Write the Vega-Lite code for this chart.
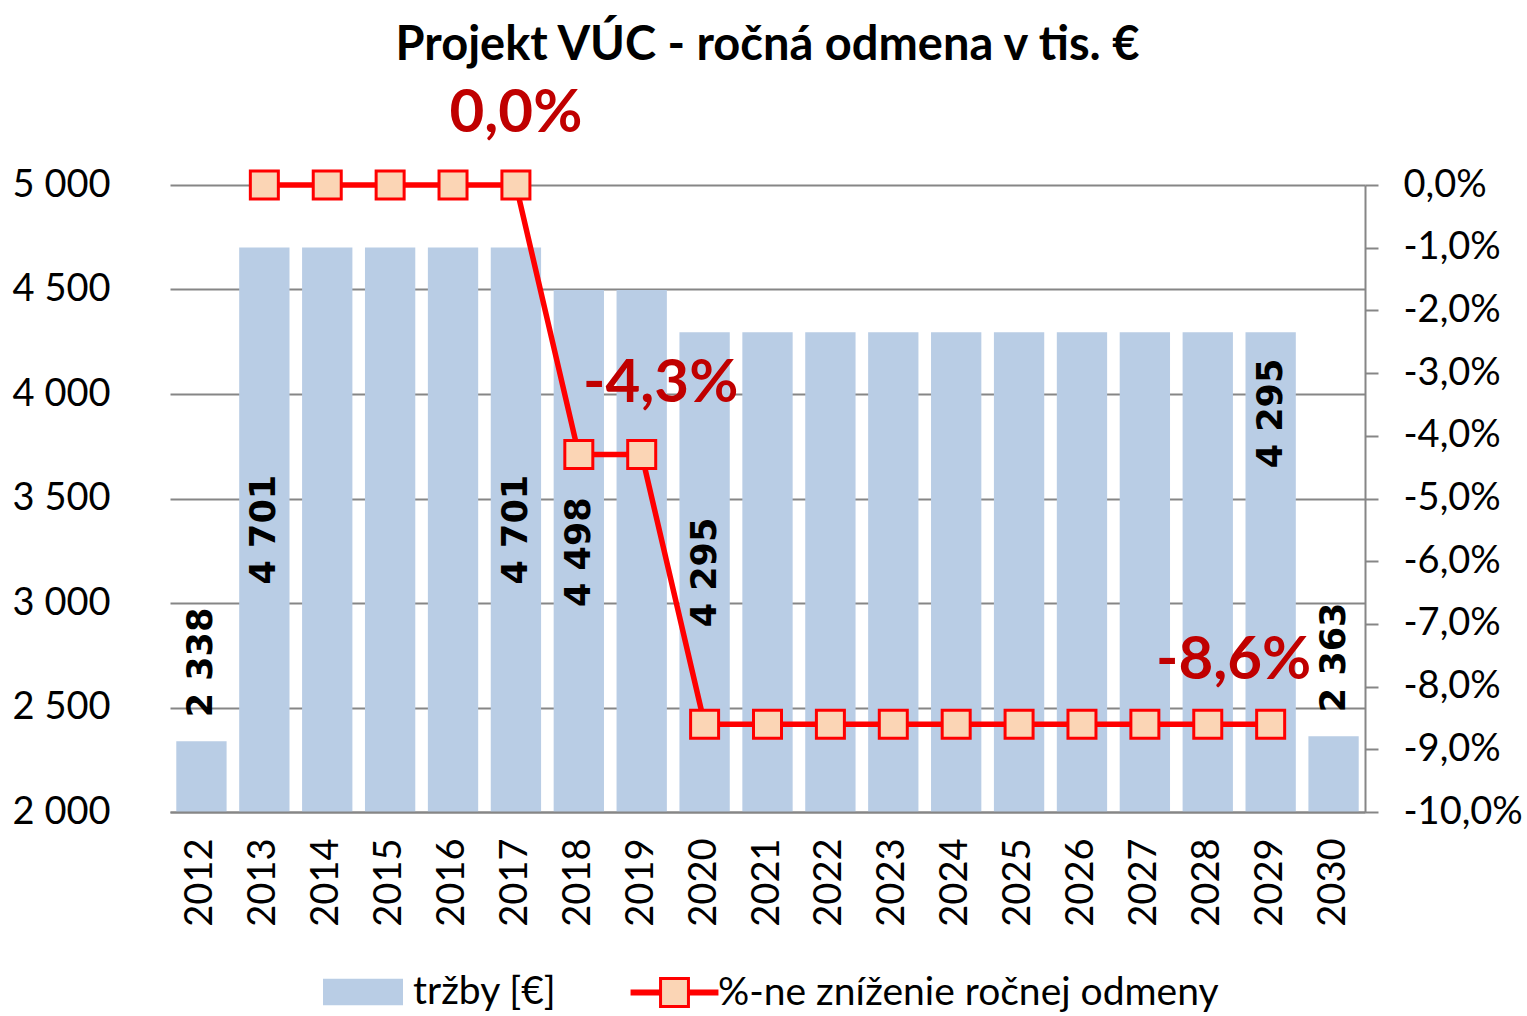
{
  "$schema": "https://vega.github.io/schema/vega-lite/v6.json",
  "width": 1195,
  "height": 627,
  "autosize": {"type": "none"},
  "padding": {"left": 170, "top": 185, "right": 162, "bottom": 204},
  "background": "white",
  "config": {
    "locale": {"number": {"decimal": ",", "thousands": " ", "grouping": [3], "currency": ["", " €"], "minus": "-", "percent": "%"}},
    "view": {"stroke": null},
    "axis": {"labelFont": "Lato", "labelFontSize": 38, "labelColor": "#000000"},
    "legend": {"labelFont": "Lato", "labelFontSize": 39, "labelColor": "#000000", "padding": 0, "labelLimit": 0}
  },
  "title": {"text": "Projekt VÚC - ročná odmena v tis. €", "font": "Lato", "fontWeight": "bold", "fontSize": 47, "color": "#000000", "anchor": "middle", "offset": 14},
  "data": {"values": [
    {"year": "2012", "trzby": 2338, "pct": null},
    {"year": "2013", "trzby": 4701, "pct": 0},
    {"year": "2014", "trzby": 4701, "pct": 0},
    {"year": "2015", "trzby": 4701, "pct": 0},
    {"year": "2016", "trzby": 4701, "pct": 0},
    {"year": "2017", "trzby": 4701, "pct": 0},
    {"year": "2018", "trzby": 4498, "pct": -0.043},
    {"year": "2019", "trzby": 4498, "pct": -0.043},
    {"year": "2020", "trzby": 4295, "pct": -0.086},
    {"year": "2021", "trzby": 4295, "pct": -0.086},
    {"year": "2022", "trzby": 4295, "pct": -0.086},
    {"year": "2023", "trzby": 4295, "pct": -0.086},
    {"year": "2024", "trzby": 4295, "pct": -0.086},
    {"year": "2025", "trzby": 4295, "pct": -0.086},
    {"year": "2026", "trzby": 4295, "pct": -0.086},
    {"year": "2027", "trzby": 4295, "pct": -0.086},
    {"year": "2028", "trzby": 4295, "pct": -0.086},
    {"year": "2029", "trzby": 4295, "pct": -0.086},
    {"year": "2030", "trzby": 2363, "pct": null}
  ]},
  "layer": [
    {
      "layer": [
        {
          "mark": {"type": "bar"},
          "encoding": {
            "x": {"field": "year", "type": "ordinal", "scale": {"paddingInner": 0.2, "paddingOuter": 0.1},
                  "axis": {"title": null, "labelAngle": -90, "ticks": false, "domainColor": "#868686", "domainWidth": 2, "labelPadding": 26, "grid": false, "zindex": 1}},
            "y": {"field": "trzby", "type": "quantitative", "scale": {"domain": [2000, 5000], "nice": false, "zero": false},
                  "axis": {"title": null, "values": [2000, 2500, 3000, 3500, 4000, 4500, 5000], "format": ",d", "domain": false, "ticks": false, "labelPadding": 60, "grid": true, "gridColor": "#868686", "gridWidth": 2}},
            "y2": {"datum": 2000},
            "color": {"datum": "tržby [€]", "scale": {"range": ["#B9CDE5"]},
                      "legend": {"orient": "none", "legendX": 153, "legendY": 767, "title": null, "symbolType": "M-1,-0.33H1V0.33H-1Z", "symbolSize": 6400, "symbolStrokeWidth": 0, "labelOffset": 10, "symbolOpacity": 1}}
          }
        },
        {
          "transform": [{"filter": {"field": "year", "oneOf": ["2012", "2030"]}}],
          "mark": {"type": "text", "angle": 270, "align": "left", "baseline": "middle", "font": "DejaVu Sans", "fontWeight": "bold", "fontSize": 35, "color": "#000000", "dx": 24},
          "encoding": {"x": {"field": "year", "type": "ordinal"}, "y": {"field": "trzby", "type": "quantitative"}, "text": {"field": "trzby", "type": "quantitative", "format": ",d"}}
        },
        {
          "transform": [{"filter": {"field": "year", "oneOf": ["2013", "2017"]}}],
          "mark": {"type": "text", "angle": 270, "align": "left", "baseline": "middle", "font": "DejaVu Sans", "fontWeight": "bold", "fontSize": 35, "color": "#000000", "dx": -337},
          "encoding": {"x": {"field": "year", "type": "ordinal"}, "y": {"field": "trzby", "type": "quantitative"}, "text": {"field": "trzby", "type": "quantitative", "format": ",d"}}
        },
        {
          "transform": [{"filter": {"field": "year", "equal": "2018"}}],
          "mark": {"type": "text", "angle": 270, "align": "left", "baseline": "middle", "font": "DejaVu Sans", "fontWeight": "bold", "fontSize": 35, "color": "#000000", "dx": -317},
          "encoding": {"x": {"field": "year", "type": "ordinal"}, "y": {"field": "trzby", "type": "quantitative"}, "text": {"field": "trzby", "type": "quantitative", "format": ",d"}}
        },
        {
          "transform": [{"filter": {"field": "year", "equal": "2020"}}],
          "mark": {"type": "text", "angle": 270, "align": "left", "baseline": "middle", "font": "DejaVu Sans", "fontWeight": "bold", "fontSize": 35, "color": "#000000", "dx": -295},
          "encoding": {"x": {"field": "year", "type": "ordinal"}, "y": {"field": "trzby", "type": "quantitative"}, "text": {"field": "trzby", "type": "quantitative", "format": ",d"}}
        },
        {
          "transform": [{"filter": {"field": "year", "equal": "2029"}}],
          "mark": {"type": "text", "angle": 270, "align": "left", "baseline": "middle", "font": "DejaVu Sans", "fontWeight": "bold", "fontSize": 35, "color": "#000000", "dx": -136},
          "encoding": {"x": {"field": "year", "type": "ordinal"}, "y": {"field": "trzby", "type": "quantitative"}, "text": {"field": "trzby", "type": "quantitative", "format": ",d"}}
        }
      ]
    },
    {
      "layer": [
        {
          "mark": {"type": "line", "color": "#FF0000", "strokeWidth": 5.5},
          "encoding": {
            "x": {"field": "year", "type": "ordinal"},
            "y": {"field": "pct", "type": "quantitative", "scale": {"domain": [-0.1, 0], "nice": false, "zero": false},
                  "axis": {"orient": "right", "title": null, "values": [-0.1, -0.09, -0.08, -0.07, -0.06, -0.05, -0.04, -0.03, -0.02, -0.01, 0], "format": ".1%", "grid": false, "domainColor": "#868686", "domainWidth": 2, "tickColor": "#868686", "tickWidth": 2, "tickSize": 13, "labelPadding": 25}}
          }
        },
        {
          "mark": {"type": "point", "shape": "square", "filled": true, "size": 784, "stroke": "#FF0000", "strokeWidth": 3, "opacity": 1},
          "encoding": {
            "x": {"field": "year", "type": "ordinal"},
            "y": {"field": "pct", "type": "quantitative"},
            "fill": {"datum": "%-ne zníženie ročnej odmeny", "scale": {"range": ["#FBD5B5"]},
                     "legend": {"orient": "none", "legendX": 485, "legendY": 788, "title": null,
                                "symbolType": "M-2.83,-0.1H-0.93V0.1H-2.83Z M0.93,-0.1H2.83V0.1H0.93Z M-0.93,-0.93H0.93V0.93H-0.93Z",
                                "symbolSize": 900, "symbolStrokeColor": "#FF0000", "symbolStrokeWidth": 3, "symbolFillColor": "#FBD5B5", "symbolOpacity": 1, "labelOffset": 24}}
          }
        },
        {
          "transform": [{"filter": {"field": "year", "equal": "2017"}}],
          "mark": {"type": "text", "align": "center", "baseline": "middle", "font": "Lato", "fontWeight": "bold", "fontSize": 60, "color": "#C00000", "dy": -71},
          "encoding": {"x": {"field": "year", "type": "ordinal"}, "y": {"field": "pct", "type": "quantitative"}, "text": {"field": "pct", "type": "quantitative", "format": ".1%"}}
        },
        {
          "transform": [{"filter": {"field": "year", "equal": "2019"}}],
          "mark": {"type": "text", "align": "center", "baseline": "middle", "font": "Lato", "fontWeight": "bold", "fontSize": 60, "color": "#C00000", "dx": 19, "dy": -71},
          "encoding": {"x": {"field": "year", "type": "ordinal"}, "y": {"field": "pct", "type": "quantitative"}, "text": {"field": "pct", "type": "quantitative", "format": ".1%"}}
        },
        {
          "transform": [{"filter": {"field": "year", "equal": "2029"}}],
          "mark": {"type": "text", "align": "center", "baseline": "middle", "font": "Lato", "fontWeight": "bold", "fontSize": 60, "color": "#C00000", "dx": -37, "dy": -63},
          "encoding": {"x": {"field": "year", "type": "ordinal"}, "y": {"field": "pct", "type": "quantitative"}, "text": {"field": "pct", "type": "quantitative", "format": ".1%"}}
        }
      ]
    }
  ],
  "resolve": {"scale": {"y": "independent"}}
}
